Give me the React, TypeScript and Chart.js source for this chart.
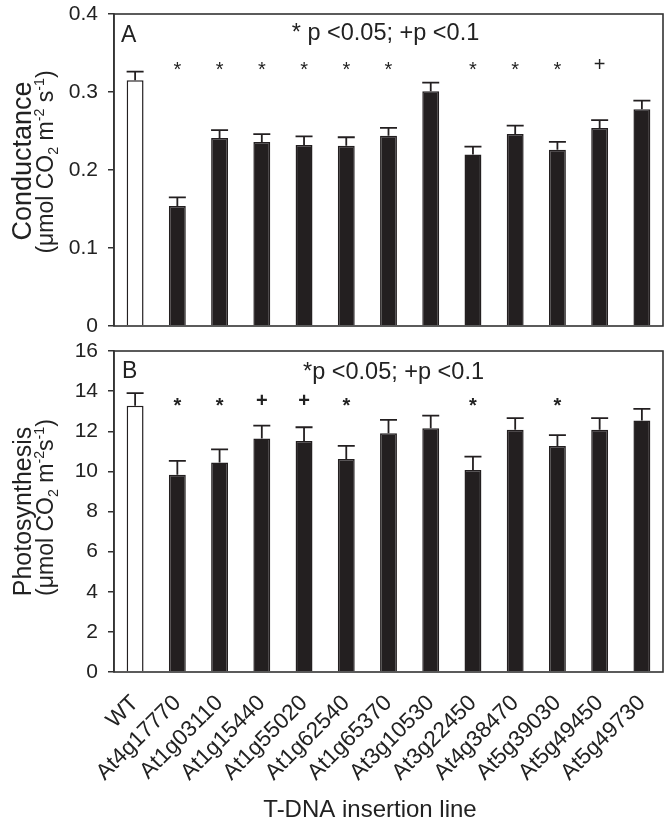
import { useEffect, useRef } from 'react';
import { Chart, registerables } from 'chart.js';

Chart.register(...registerables);

const categories = ['WT', 'At4g17770', 'At1g03110', 'At1g15440', 'At1g55020', 'At1g62540', 'At1g65370', 'At3g10530', 'At3g22450', 'At4g38470', 'At5g39030', 'At5g49450', 'At5g49730'];
const conductance = [0.315, 0.154, 0.241, 0.236, 0.232, 0.231, 0.244, 0.301, 0.220, 0.246, 0.226, 0.254, 0.278];
const conductanceErr = [0.011, 0.011, 0.010, 0.010, 0.011, 0.011, 0.010, 0.011, 0.010, 0.011, 0.010, 0.010, 0.011];
const conductanceSig = ['', '*', '*', '*', '*', '*', '*', '', '*', '*', '*', '+', ''];
const photosynthesis = [13.27, 9.83, 10.44, 11.64, 11.52, 10.62, 11.90, 12.15, 10.07, 12.07, 11.26, 12.07, 12.53];
const photosynthesisErr = [0.63, 0.69, 0.66, 0.64, 0.68, 0.65, 0.67, 0.63, 0.67, 0.58, 0.55, 0.58, 0.59];
const photosynthesisSig = ['', '*', '*', '+', '+', '*', '', '', '*', '', '*', '', ''];

const FONT = '"Liberation Sans", Arial, Helvetica, sans-serif';
const INK = '#231f20';
const LINE = '#333333';

type Seg = { t: string; k?: 'sub' | 'sup' };

const titleA1: Seg[] = [{ t: 'Conductance' }];
const titleA2: Seg[] = [{ t: '(μmol CO' }, { t: '2', k: 'sub' }, { t: ' m' }, { t: '-2', k: 'sup' }, { t: ' s' }, { t: '-1', k: 'sup' }, { t: ')' }];
const titleB1: Seg[] = [{ t: 'Photosynthesis' }];
const titleB2: Seg[] = [{ t: '(μmol CO' }, { t: '2', k: 'sub' }, { t: ' m' }, { t: '-2', k: 'sup' }, { t: 's' }, { t: '-1', k: 'sup' }, { t: ')' }];

function drawRotatedRich(ctx: CanvasRenderingContext2D, segs: Seg[], x: number, yc: number, size: number) {
  ctx.save();
  ctx.translate(x, yc);
  ctx.rotate(-Math.PI / 2);
  const small = size * 0.62;
  let w = 0;
  for (const s of segs) {
    ctx.font = `${s.k ? small : size}px ${FONT}`;
    w += ctx.measureText(s.t).width;
  }
  let cx = -w / 2;
  ctx.textAlign = 'left';
  ctx.textBaseline = 'alphabetic';
  ctx.fillStyle = '#222';
  for (const s of segs) {
    ctx.font = `${s.k ? small : size}px ${FONT}`;
    const dy = s.k === 'sub' ? size * 0.22 : s.k === 'sup' ? -size * 0.38 : 0;
    ctx.fillText(s.t, cx, dy);
    cx += ctx.measureText(s.t).width;
  }
  ctx.restore();
}

type PanelCfg = {
  letter: string;
  letterDx: number;
  letterDy: number;
  pText: string;
  pDx: number;
  pDy: number;
  errs: number[];
  sig: string[];
  sigLevel: number;
  sigBold: boolean;
  t1: Seg[];
  t2: Seg[];
  t1size: number;
  t2size: number;
  t1x: number;
  t2x: number;
  t1dy: number;
  t2dy: number;
  xTitle?: { text: string; x: number; y: number };
};

function makePlugin(cfg: PanelCfg) {
  return {
    id: 'panelDecor' + cfg.letter,
    afterDatasetsDraw(chart: any) {
      const ctx: CanvasRenderingContext2D = chart.ctx;
      const yScale = chart.scales.y;
      const meta = chart.getDatasetMeta(0);
      const data = chart.data.datasets[0].data as number[];
      ctx.save();
      ctx.strokeStyle = INK;
      ctx.lineWidth = 1.8;
      meta.data.forEach((bar: any, i: number) => {
        const x = bar.x;
        const yb = yScale.getPixelForValue(data[i]);
        const yt = yScale.getPixelForValue(data[i] + cfg.errs[i]);
        ctx.beginPath();
        ctx.moveTo(x, yb);
        ctx.lineTo(x, yt);
        ctx.moveTo(x - 8.5, yt);
        ctx.lineTo(x + 8.5, yt);
        ctx.stroke();
      });
      const fs = 20;
      ctx.fillStyle = '#222';
      ctx.textAlign = 'center';
      ctx.textBaseline = 'alphabetic';
      ctx.font = `${cfg.sigBold ? 'bold ' : ''}${fs}px ${FONT}`;
      const py = yScale.getPixelForValue(cfg.sigLevel);
      meta.data.forEach((bar: any, i: number) => {
        const m = cfg.sig[i];
        if (!m) return;
        const off = m === '*' ? 0.6 * fs : 0.36 * fs;
        ctx.fillText(m, bar.x, py + off);
      });
      ctx.restore();
    },
    afterDraw(chart: any) {
      const ctx: CanvasRenderingContext2D = chart.ctx;
      const a = chart.chartArea;
      ctx.save();
      ctx.strokeStyle = LINE;
      ctx.lineWidth = 1.6;
      ctx.strokeRect(a.left, a.top, a.right - a.left, a.bottom - a.top);
      ctx.fillStyle = '#222';
      ctx.textBaseline = 'alphabetic';
      ctx.textAlign = 'left';
      ctx.font = `23px ${FONT}`;
      ctx.fillText(cfg.letter, a.left + cfg.letterDx, a.top + cfg.letterDy);
      ctx.textAlign = 'center';
      ctx.font = `23.5px ${FONT}`;
      ctx.fillText(cfg.pText, (a.left + a.right) / 2 + cfg.pDx, a.top + cfg.pDy);
      const yc = (a.top + a.bottom) / 2;
      drawRotatedRich(ctx, cfg.t1, cfg.t1x, yc + cfg.t1dy, cfg.t1size);
      drawRotatedRich(ctx, cfg.t2, cfg.t2x, yc + cfg.t2dy, cfg.t2size);
      if (cfg.xTitle) {
        ctx.textAlign = 'center';
        ctx.font = `24px ${FONT}`;
        ctx.fillText(cfg.xTitle.text, cfg.xTitle.x, cfg.xTitle.y);
      }
      ctx.restore();
    },
  };
}

function buildConfig(values: number[], yMax: number, step: number, showX: boolean, padTop: number, padBottom: number, xHeight: number, plugin: any): any {
  return {
    type: 'bar',
    data: {
      labels: categories,
      datasets: [
        {
          data: values,
          backgroundColor: categories.map((_, i) => (i === 0 ? '#ffffff' : INK)),
          borderColor: INK,
          borderWidth: 1.5,
          categoryPercentage: 1,
          barPercentage: 0.4,
        },
      ],
    },
    options: {
      animation: false,
      responsive: false,
      devicePixelRatio: 1,
      layout: { padding: { left: 0, right: 9, top: padTop, bottom: padBottom } },
      plugins: { legend: { display: false }, tooltip: { enabled: false }, title: { display: false } },
      scales: {
        x: {
          grid: { display: false, drawTicks: false },
          border: { display: false },
          ticks: {
            display: showX,
            autoSkip: false,
            maxRotation: 45,
            minRotation: 45,
            padding: 18,
            color: '#222',
            font: { family: FONT, size: 22.5 },
          },
          afterFit: (s: any) => {
            s.height = xHeight;
            s.paddingLeft = 0;
            s.paddingRight = 0;
          },
        },
        y: {
          min: 0,
          max: yMax,
          ticks: {
            stepSize: step,
            padding: 10,
            color: '#222',
            font: { family: FONT, size: 21 },
          },
          grid: { drawOnChartArea: false, drawTicks: true, tickLength: 6, color: LINE, lineWidth: 1.5 },
          border: { display: true, color: LINE, width: 1.6 },
          afterFit: (s: any) => {
            s.width = 114;
            s.paddingTop = 0;
            s.paddingBottom = 0;
          },
        },
      },
    },
    plugins: [plugin],
  };
}

export default function App() {
  const topRef = useRef<HTMLCanvasElement | null>(null);
  const botRef = useRef<HTMLCanvasElement | null>(null);

  useEffect(() => {
    const pluginA = makePlugin({
      letter: 'A',
      letterDx: 7,
      letterDy: 28,
      pText: '* p <0.05; +p <0.1',
      pDx: -3,
      pDy: 26,
      errs: conductanceErr,
      sig: conductanceSig,
      sigLevel: 0.336,
      sigBold: false,
      t1: titleA1,
      t2: titleA2,
      t1size: 27,
      t2size: 23,
      t1x: 31,
      t2x: 53,
      t1dy: -9,
      t2dy: -8,
    });
    const pluginB = makePlugin({
      letter: 'B',
      letterDx: 8,
      letterDy: 27,
      pText: '*p <0.05; +p <0.1',
      pDx: 5,
      pDy: 28,
      errs: photosynthesisErr,
      sig: photosynthesisSig,
      sigLevel: 13.56,
      sigBold: true,
      t1: titleB1,
      t2: titleB2,
      t1size: 25,
      t2size: 23,
      t1x: 31,
      t2x: 53,
      t1dy: 0,
      t2dy: -4,
      xTitle: { text: 'T-DNA insertion line', x: 370, y: 477 },
    });
    const c1 = new Chart(topRef.current as HTMLCanvasElement, buildConfig(conductance, 0.4, 0.1, false, 14, 14, 0, pluginA));
    const c2 = new Chart(botRef.current as HTMLCanvasElement, buildConfig(photosynthesis, 16, 2, true, 11, 0, 153, pluginB));
    return () => {
      c1.destroy();
      c2.destroy();
    };
  }, []);

  return (
    <div style={{ position: 'absolute', left: 0, top: 0, width: 672, height: 825, background: '#fff' }}>
      <canvas ref={topRef} width={672} height={340} style={{ position: 'absolute', left: 0, top: 0, width: 672, height: 340 }} />
      <canvas ref={botRef} width={672} height={485} style={{ position: 'absolute', left: 0, top: 340, width: 672, height: 485 }} />
    </div>
  );
}
